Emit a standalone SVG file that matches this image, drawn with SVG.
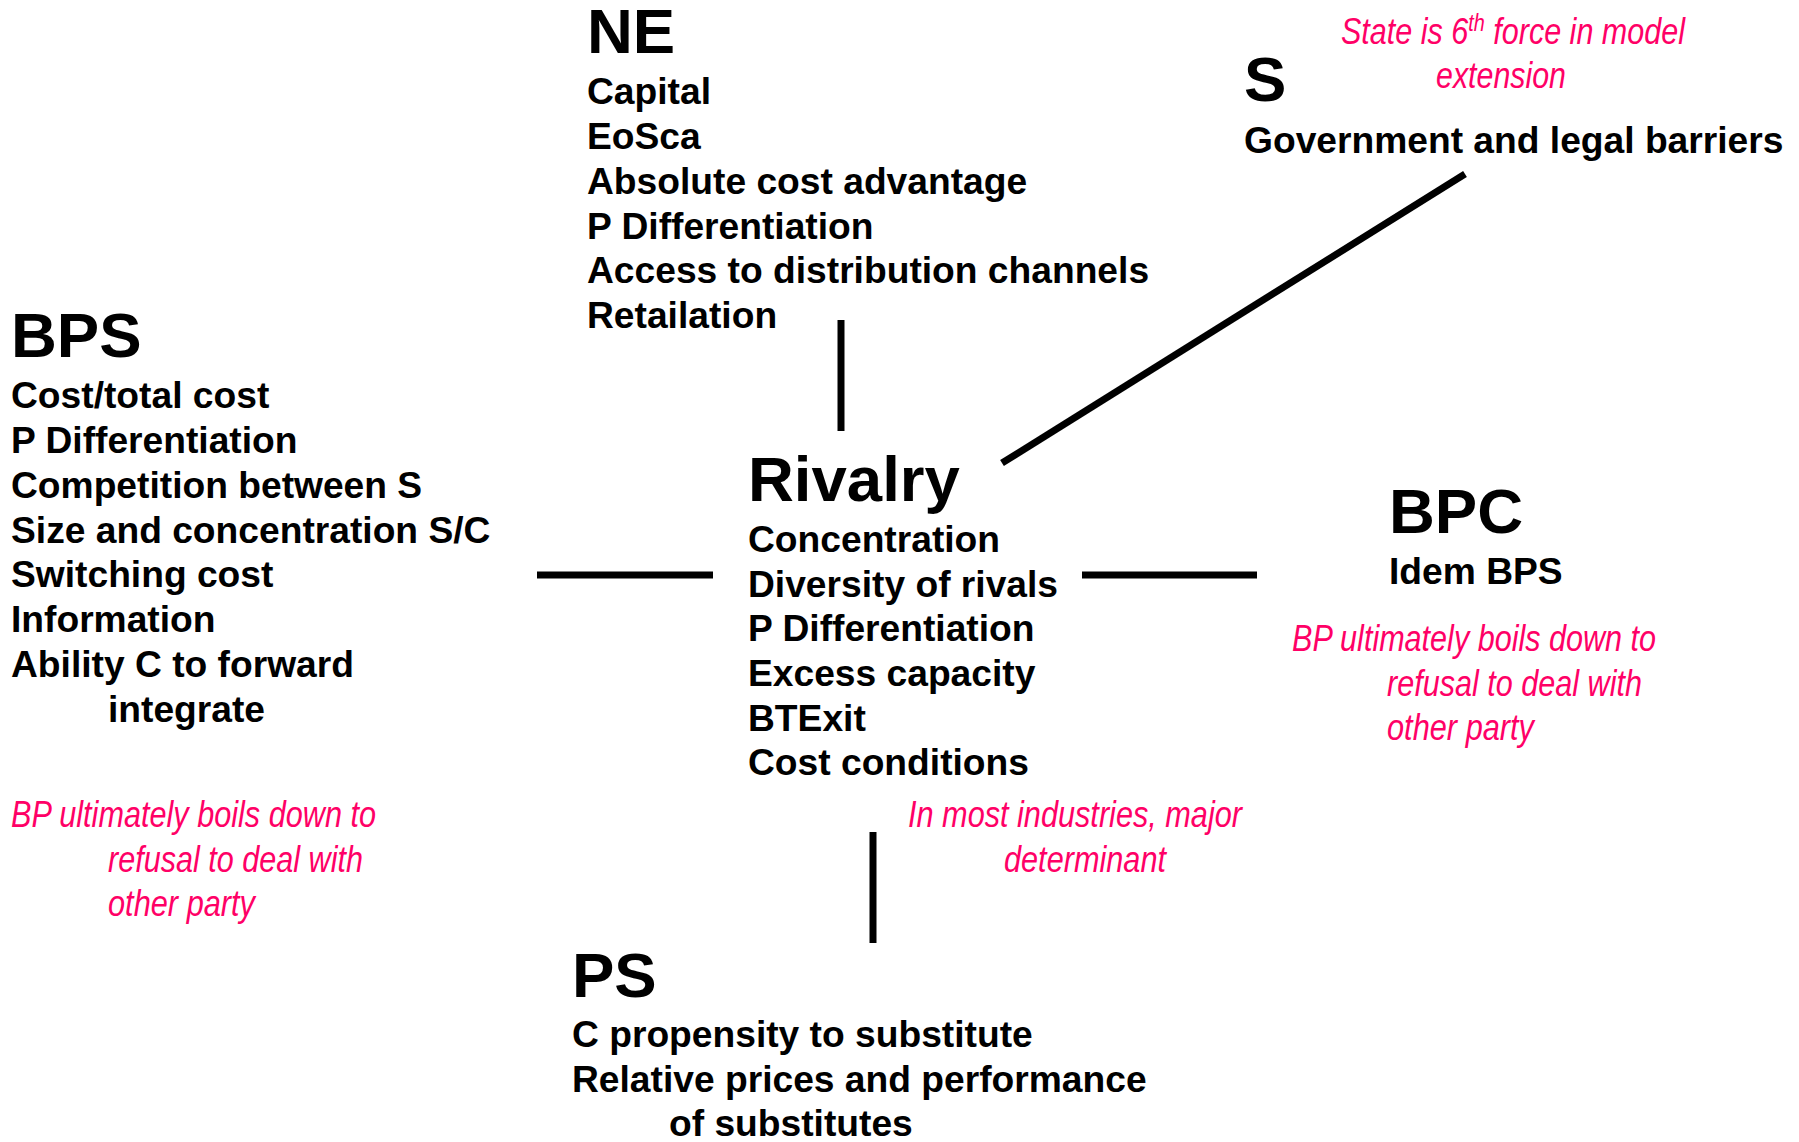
<svg xmlns="http://www.w3.org/2000/svg" width="1799" height="1142" viewBox="0 0 1799 1142">
  <style>
    .head { font-family: "Liberation Sans", Arial, sans-serif; font-weight: bold; font-size: 63.5px; fill: #000; }
    .item { font-family: "Liberation Sans", Arial, sans-serif; font-weight: bold; font-size: 37.2px; fill: #000; }
    .note { font-family: "Liberation Sans Narrow", "Liberation Sans", Arial, sans-serif; font-style: italic; font-size: 37px; fill: #FF0066; }
    .link { stroke: #000; stroke-width: 7; fill: none; }
  </style>
  <rect width="1799" height="1142" fill="#fff"/>

  <!-- connectors between the forces and the central rivalry block -->
  <g id="connectors">
    <line class="link" x1="841" y1="320" x2="841" y2="431"/>
    <line class="link" x1="1465" y1="174" x2="1002" y2="463"/>
    <line class="link" x1="537" y1="575" x2="713" y2="575"/>
    <line class="link" x1="1082" y1="575" x2="1257" y2="575"/>
    <line class="link" x1="873" y1="832" x2="873" y2="943"/>
  </g>

  <!-- new entrants -->
  <g id="node-ne">
    <text class="head" x="587" y="53">NE</text>
    <text class="item" x="587" y="104">Capital</text>
    <text class="item" x="587" y="149">EoSca</text>
    <text class="item" x="587" y="194">Absolute cost advantage</text>
    <text class="item" x="587" y="239">P Differentiation</text>
    <text class="item" x="587" y="283">Access to distribution channels</text>
    <text class="item" x="587" y="328">Retailation</text>
  </g>

  <!-- state -->
  <g id="node-s">
    <text class="note" x="1341" y="44" textLength="344" lengthAdjust="spacingAndGlyphs">State is 6<tspan font-size="24" baseline-shift="13">th</tspan> force in model</text>
    <text class="note" x="1436" y="88" textLength="130" lengthAdjust="spacingAndGlyphs">extension</text>
    <text class="head" x="1244" y="101">S</text>
    <text class="item" x="1244" y="153">Government and legal barriers</text>
  </g>

  <!-- bargaining power of suppliers -->
  <g id="node-bps">
    <text class="head" x="11" y="357">BPS</text>
    <text class="item" x="11" y="408">Cost/total cost</text>
    <text class="item" x="11" y="453">P Differentiation</text>
    <text class="item" x="11" y="498">Competition between S</text>
    <text class="item" x="11" y="543">Size and concentration S/C</text>
    <text class="item" x="11" y="587">Switching cost</text>
    <text class="item" x="11" y="632">Information</text>
    <text class="item" x="11" y="677">Ability C to forward</text>
    <text class="item" x="108" y="722">integrate</text>
    <text class="note" x="11" y="827" textLength="365" lengthAdjust="spacingAndGlyphs">BP ultimately boils down to</text>
    <text class="note" x="108" y="872" textLength="255" lengthAdjust="spacingAndGlyphs">refusal to deal with</text>
    <text class="note" x="108" y="916" textLength="147" lengthAdjust="spacingAndGlyphs">other party</text>
  </g>

  <!-- rivalry among existing firms -->
  <g id="node-rivalry">
    <text class="head" x="748" y="501">Rivalry</text>
    <text class="item" x="748" y="552">Concentration</text>
    <text class="item" x="748" y="597">Diversity of rivals</text>
    <text class="item" x="748" y="641">P Differentiation</text>
    <text class="item" x="748" y="686">Excess capacity</text>
    <text class="item" x="748" y="731">BTExit</text>
    <text class="item" x="748" y="775">Cost conditions</text>
  </g>

  <!-- bargaining power of customers -->
  <g id="node-bpc">
    <text class="head" x="1389" y="533">BPC</text>
    <text class="item" x="1389" y="584">Idem BPS</text>
    <text class="note" x="1292" y="651" textLength="364" lengthAdjust="spacingAndGlyphs">BP ultimately boils down to</text>
    <text class="note" x="1387" y="696" textLength="255" lengthAdjust="spacingAndGlyphs">refusal to deal with</text>
    <text class="note" x="1387" y="740" textLength="147" lengthAdjust="spacingAndGlyphs">other party</text>
  </g>

  <!-- note on the substitutes link -->
  <g id="note-ps">
    <text class="note" x="908" y="827" textLength="334" lengthAdjust="spacingAndGlyphs">In most industries, major</text>
    <text class="note" x="1004" y="872" textLength="162" lengthAdjust="spacingAndGlyphs">determinant</text>
  </g>

  <!-- product substitutes -->
  <g id="node-ps">
    <text class="head" x="572" y="997">PS</text>
    <text class="item" x="572" y="1047">C propensity to substitute</text>
    <text class="item" x="572" y="1092">Relative prices and performance</text>
    <text class="item" x="669" y="1136">of substitutes</text>
  </g>
</svg>
